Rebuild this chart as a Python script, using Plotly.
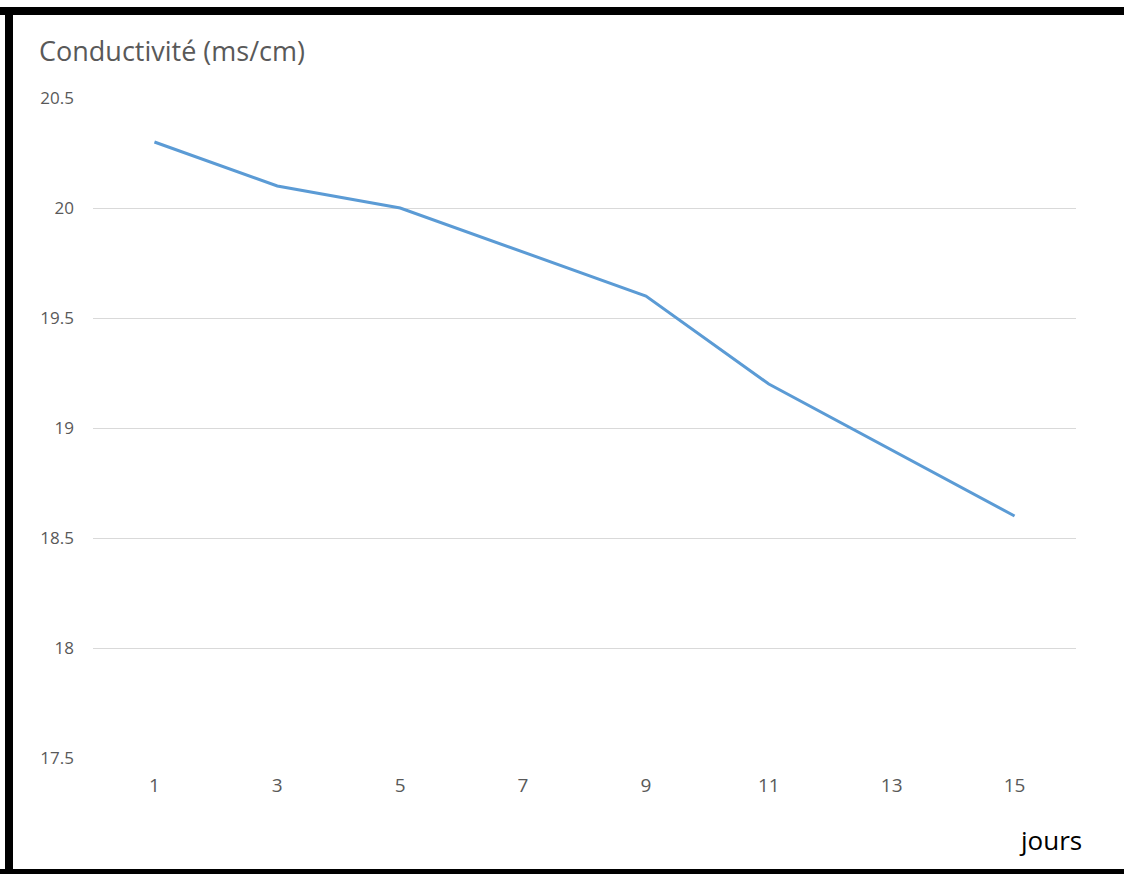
import plotly.graph_objects as go

# Conductivity measurements over the days of the trial
jours = ["1", "3", "5", "7", "9", "11", "13", "15"]
conductivite = [20.3, 20.1, 20.0, 19.8, 19.6, 19.2, 18.9, 18.6]
y_ticks = [17.5, 18, 18.5, 19, 19.5, 20, 20.5]
y_labels = ["17.5", "18", "18.5", "19", "19.5", "20", "20.5"]

W, H = 1124, 874
ML, MR, MT, MB = 93, 48, 98, 116
PW, PH = W - ML - MR, H - MT - MB


def px_x(v):
    return (v - ML) / PW


def px_y(v):
    return (H - MB - v) / PH


fig = go.Figure()
fig.add_trace(go.Scatter(
    x=jours, y=conductivite, mode="lines",
    line=dict(color="#5B9BD5", width=3),
    hoverinfo="x+y", showlegend=False,
))

# black frame on the top, left and bottom edges
frame = [(0, 7, W, 15), (5, 7, 13, H), (0, 869, W, H)]
shapes = [
    dict(type="rect", xref="paper", yref="paper",
         x0=px_x(a), x1=px_x(c), y0=px_y(d), y1=px_y(b),
         fillcolor="black", line=dict(width=0), layer="above")
    for a, b, c, d in frame
]

fig.update_layout(
    width=W, height=H,
    margin=dict(l=ML, r=MR, t=MT, b=MB),
    paper_bgcolor="white", plot_bgcolor="white",
    shapes=shapes,
    xaxis=dict(
        type="category", range=[-0.5, 7.5],
        showgrid=False, zeroline=False, showline=False, ticks="",
        tickfont=dict(family="Open Sans, Noto Sans", size=19, color="#595959"),
        ticklabelstandoff=14,
    ),
    yaxis=dict(
        range=[17.5, 20.5], tickvals=y_ticks, ticktext=y_labels,
        showgrid=True, gridcolor="#D9D9D9", gridwidth=1.3,
        zeroline=False, showline=False, ticks="",
        tickfont=dict(family="Open Sans, Noto Sans", size=17, color="#595959"),
        ticklabelstandoff=18,
    ),
    annotations=[
        dict(text="Conductivité (ms/cm)", xref="paper", yref="paper",
             x=px_x(37), y=px_y(51), xanchor="left", yanchor="middle",
             showarrow=False,
             font=dict(family="Open Sans, Noto Sans", size=27, color="#595959")),
        dict(text="jours", xref="paper", yref="paper",
             x=px_x(1084), y=px_y(840), xanchor="right", yanchor="middle",
             showarrow=False,
             font=dict(family="Open Sans, Noto Sans", size=26, color="#000000")),
    ],
)

fig.write_html("out.html")
